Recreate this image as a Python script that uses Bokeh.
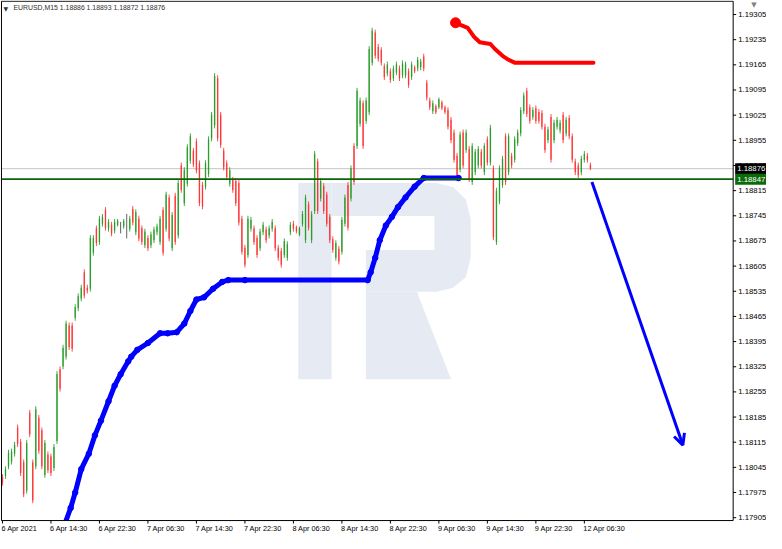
from bokeh.plotting import figure
from bokeh.models import Range1d, Arrow, OpenHead, ColumnDataSource
from bokeh.core.properties import value
from bokeh.embed import file_html
from bokeh.resources import INLINE

symbol = "EURUSD,M15"
bars_per_candle = 2  # each drawn candle covers two M15 bars

opens = [
    1.18018, 1.18021, 1.18048, 1.18061, 1.18083, 1.18156, 1.18116, 1.18059, 1.17980, 1.18197,
    1.18059, 1.18048, 1.18183, 1.18148, 1.18024, 1.18081, 1.18075, 1.18043, 1.18118, 1.18318,
    1.18326, 1.18353, 1.18440, 1.18440, 1.18461, 1.18488, 1.18515, 1.18588, 1.18545, 1.18542,
    1.18642, 1.18710, 1.18672, 1.18723, 1.18761, 1.18709, 1.18720, 1.18704, 1.18720, 1.18712,
    1.18715, 1.18718, 1.18709, 1.18764, 1.18699, 1.18737, 1.18710, 1.18663, 1.18683, 1.18663,
    1.18677, 1.18699, 1.18672, 1.18761, 1.18709, 1.18796, 1.18655, 1.18801, 1.18690, 1.18885,
    1.18780, 1.18834, 1.18898, 1.18926, 1.18952, 1.18891, 1.18831, 1.18826, 1.18861, 1.18960,
    1.18996, 1.19128, 1.19026, 1.18926, 1.18891, 1.18834, 1.18845, 1.18842, 1.18836, 1.18737,
    1.18656, 1.18636, 1.18709, 1.18710, 1.18683, 1.18655, 1.18699, 1.18707, 1.18690, 1.18709,
    1.18710, 1.18656, 1.18647, 1.18636, 1.18628, 1.18699, 1.18723, 1.18713, 1.18693, 1.18723,
    1.18677, 1.18777, 1.18677, 1.18758, 1.18896, 1.18793, 1.18828, 1.18804, 1.18742, 1.18680,
    1.18628, 1.18653, 1.18645, 1.18723, 1.18831, 1.18793, 1.18939, 1.18939, 1.19001, 1.19058,
    1.19009, 1.19033, 1.19171, 1.19255, 1.19215, 1.19206, 1.19161, 1.19141, 1.19147, 1.19128,
    1.19144, 1.19155, 1.19136, 1.19136, 1.19147, 1.19131, 1.19158, 1.19155, 1.19158, 1.19188,
    1.19115, 1.19066, 1.19036, 1.19050, 1.19047, 1.19061, 1.19047, 1.19039, 1.19012, 1.18977,
    1.18912, 1.18874, 1.18977, 1.18928, 1.18931, 1.18839, 1.18866, 1.18885, 1.18923, 1.18866,
    1.18958, 1.18893, 1.18877, 1.18672, 1.18785, 1.18831, 1.18966, 1.18866, 1.18912, 1.18901,
    1.18947, 1.18974, 1.19036, 1.19093, 1.19047, 1.19020, 1.19044, 1.19034, 1.19031, 1.18993,
    1.18955, 1.19020, 1.18955, 1.18993, 1.18982, 1.19026, 1.18974, 1.19017, 1.18966, 1.18896,
    1.18885, 1.18866, 1.18901, 1.18912, 1.18886,
]
highs = [
    1.18026, 1.18048, 1.18094, 1.18097, 1.18116, 1.18164, 1.18124, 1.18067, 1.18121, 1.18205,
    1.18067, 1.18215, 1.18191, 1.18156, 1.18121, 1.18089, 1.18083, 1.18110, 1.18313, 1.18326,
    1.18386, 1.18453, 1.18448, 1.18448, 1.18499, 1.18529, 1.18553, 1.18596, 1.18553, 1.18691,
    1.18691, 1.18718, 1.18745, 1.18750, 1.18769, 1.18736, 1.18728, 1.18736, 1.18736, 1.18728,
    1.18736, 1.18750, 1.18745, 1.18772, 1.18763, 1.18745, 1.18718, 1.18709, 1.18691, 1.18701,
    1.18715, 1.18723, 1.18745, 1.18769, 1.18812, 1.18804, 1.18755, 1.18809, 1.18844, 1.18893,
    1.18880, 1.18944, 1.18974, 1.18934, 1.18960, 1.18899, 1.18839, 1.18899, 1.18966, 1.19034,
    1.19142, 1.19136, 1.19034, 1.18934, 1.18899, 1.18880, 1.18853, 1.18850, 1.18844, 1.18745,
    1.18664, 1.18745, 1.18742, 1.18718, 1.18691, 1.18709, 1.18728, 1.18715, 1.18718, 1.18736,
    1.18718, 1.18664, 1.18655, 1.18682, 1.18674, 1.18728, 1.18731, 1.18718, 1.18715, 1.18758,
    1.18804, 1.18785, 1.18758, 1.18925, 1.18904, 1.18850, 1.18836, 1.18812, 1.18750, 1.18688,
    1.18677, 1.18661, 1.18742, 1.18804, 1.18839, 1.18885, 1.18947, 1.19101, 1.19074, 1.19066,
    1.19074, 1.19217, 1.19268, 1.19263, 1.19223, 1.19214, 1.19169, 1.19174, 1.19155, 1.19163,
    1.19174, 1.19163, 1.19177, 1.19174, 1.19155, 1.19174, 1.19163, 1.19187, 1.19182, 1.19196,
    1.19123, 1.19074, 1.19066, 1.19055, 1.19074, 1.19066, 1.19052, 1.19047, 1.19020, 1.18985,
    1.18920, 1.18979, 1.18985, 1.18985, 1.18939, 1.18947, 1.18931, 1.18939, 1.18931, 1.18947,
    1.18966, 1.18998, 1.18885, 1.18823, 1.18885, 1.18912, 1.18974, 1.18974, 1.18920, 1.18966,
    1.18985, 1.19047, 1.19088, 1.19101, 1.19055, 1.19047, 1.19052, 1.19042, 1.19039, 1.19001,
    1.18993, 1.19028, 1.19012, 1.19020, 1.19012, 1.19034, 1.19020, 1.19025, 1.18974, 1.18904,
    1.18893, 1.18912, 1.18925, 1.18920, 1.18893,
]
lows = [
    1.17994, 1.18013, 1.18040, 1.18053, 1.18075, 1.18102, 1.18021, 1.17962, 1.17972, 1.18129,
    1.17945, 1.18040, 1.18083, 1.18040, 1.18016, 1.18029, 1.18021, 1.18035, 1.18110, 1.18256,
    1.18318, 1.18345, 1.18372, 1.18367, 1.18453, 1.18480, 1.18507, 1.18515, 1.18529, 1.18534,
    1.18634, 1.18661, 1.18664, 1.18715, 1.18704, 1.18701, 1.18688, 1.18696, 1.18715, 1.18696,
    1.18709, 1.18682, 1.18701, 1.18718, 1.18691, 1.18674, 1.18664, 1.18655, 1.18647, 1.18655,
    1.18669, 1.18691, 1.18664, 1.18634, 1.18701, 1.18674, 1.18647, 1.18664, 1.18682, 1.18809,
    1.18772, 1.18826, 1.18890, 1.18880, 1.18863, 1.18772, 1.18763, 1.18818, 1.18853, 1.18952,
    1.18988, 1.18952, 1.18934, 1.18871, 1.18844, 1.18826, 1.18809, 1.18772, 1.18718, 1.18637,
    1.18601, 1.18628, 1.18701, 1.18664, 1.18628, 1.18647, 1.18691, 1.18669, 1.18682, 1.18701,
    1.18647, 1.18620, 1.18601, 1.18628, 1.18620, 1.18691, 1.18701, 1.18696, 1.18688, 1.18715,
    1.18669, 1.18704, 1.18669, 1.18750, 1.18750, 1.18785, 1.18750, 1.18715, 1.18669, 1.18642,
    1.18620, 1.18610, 1.18637, 1.18715, 1.18704, 1.18785, 1.18831, 1.18931, 1.18993, 1.18931,
    1.19001, 1.19025, 1.19163, 1.19182, 1.19174, 1.19163, 1.19123, 1.19133, 1.19115, 1.19120,
    1.19136, 1.19120, 1.19128, 1.19128, 1.19101, 1.19123, 1.19142, 1.19147, 1.19150, 1.19147,
    1.19066, 1.19039, 1.19028, 1.19028, 1.19042, 1.19039, 1.19028, 1.18985, 1.18947, 1.18893,
    1.18850, 1.18866, 1.18877, 1.18920, 1.18839, 1.18831, 1.18858, 1.18877, 1.18877, 1.18858,
    1.18885, 1.18885, 1.18677, 1.18664, 1.18777, 1.18823, 1.18831, 1.18858, 1.18877, 1.18893,
    1.18939, 1.18966, 1.19028, 1.19020, 1.19001, 1.19012, 1.19001, 1.19001, 1.18985, 1.18920,
    1.18947, 1.18893, 1.18947, 1.18985, 1.18974, 1.18947, 1.18966, 1.18958, 1.18893, 1.18858,
    1.18850, 1.18858, 1.18893, 1.18893, 1.18872,
]
closes = [
    1.18002, 1.18040, 1.18086, 1.18089, 1.18108, 1.18110, 1.18029, 1.17970, 1.18113, 1.18137,
    1.17953, 1.18207, 1.18091, 1.18048, 1.18113, 1.18037, 1.18029, 1.18102, 1.18305, 1.18264,
    1.18378, 1.18445, 1.18380, 1.18375, 1.18491, 1.18521, 1.18545, 1.18523, 1.18537, 1.18683,
    1.18683, 1.18669, 1.18737, 1.18742, 1.18712, 1.18728, 1.18696, 1.18728, 1.18731, 1.18712,
    1.18731, 1.18718, 1.18737, 1.18726, 1.18755, 1.18682, 1.18672, 1.18701, 1.18655, 1.18693,
    1.18707, 1.18715, 1.18737, 1.18642, 1.18804, 1.18682, 1.18747, 1.18672, 1.18836, 1.18817,
    1.18872, 1.18936, 1.18966, 1.18888, 1.18871, 1.18780, 1.18771, 1.18891, 1.18958, 1.19026,
    1.19134, 1.18960, 1.18942, 1.18879, 1.18852, 1.18872, 1.18817, 1.18780, 1.18726, 1.18645,
    1.18609, 1.18737, 1.18734, 1.18672, 1.18636, 1.18701, 1.18720, 1.18677, 1.18710, 1.18728,
    1.18655, 1.18628, 1.18609, 1.18674, 1.18666, 1.18720, 1.18709, 1.18701, 1.18710, 1.18750,
    1.18796, 1.18712, 1.18750, 1.18917, 1.18758, 1.18842, 1.18758, 1.18723, 1.18677, 1.18650,
    1.18669, 1.18618, 1.18734, 1.18796, 1.18712, 1.18877, 1.18839, 1.19093, 1.19066, 1.18939,
    1.19066, 1.19209, 1.19260, 1.19190, 1.19182, 1.19171, 1.19131, 1.19166, 1.19123, 1.19155,
    1.19166, 1.19128, 1.19169, 1.19166, 1.19109, 1.19166, 1.19147, 1.19179, 1.19174, 1.19155,
    1.19074, 1.19047, 1.19058, 1.19033, 1.19069, 1.19044, 1.19033, 1.18993, 1.18955, 1.18901,
    1.18858, 1.18971, 1.18885, 1.18977, 1.18847, 1.18939, 1.18923, 1.18931, 1.18885, 1.18939,
    1.18893, 1.18990, 1.18685, 1.18815, 1.18877, 1.18904, 1.18839, 1.18966, 1.18885, 1.18958,
    1.18977, 1.19039, 1.19080, 1.19028, 1.19009, 1.19039, 1.19009, 1.19009, 1.18993, 1.18928,
    1.18985, 1.18901, 1.19004, 1.19012, 1.19004, 1.18955, 1.19012, 1.18966, 1.18901, 1.18866,
    1.18858, 1.18904, 1.18917, 1.18901, 1.18876,
]

# time axis (M15 bar index counted from 6 Apr 06:30)
time_ticks = [0, 32, 64, 96, 128, 160, 192, 224, 256, 288, 320, 352, 384]
time_labels = ["6 Apr 2021", "6 Apr 14:30", "6 Apr 22:30", "7 Apr 06:30", "7 Apr 14:30",
               "7 Apr 22:30", "8 Apr 06:30", "8 Apr 14:30", "8 Apr 22:30", "9 Apr 06:30",
               "9 Apr 14:30", "9 Apr 22:30", "12 Apr 06:30"]
price_ticks = [1.17905, 1.17975, 1.18045, 1.18115, 1.18185, 1.18255, 1.18325, 1.18395,
               1.18465, 1.18535, 1.18605, 1.18675, 1.18745, 1.18815, 1.18885, 1.18955,
               1.19025, 1.19095, 1.19165, 1.19235, 1.19305]

# blue indicator trail and red indicator
blue_x = [41, 45, 48, 52, 57, 61, 65, 70, 74, 78, 83, 85, 89, 96, 104, 109, 115, 120, 124,
          128, 133, 139, 145, 149, 160, 241, 243, 246, 249, 253, 257, 261, 266, 272, 278, 301]
blue_y = [1.17886, 1.17932, 1.17975, 1.18040, 1.18083, 1.18134, 1.18175, 1.18229, 1.18272,
          1.18304, 1.18340, 1.18353, 1.18372, 1.18391, 1.18418, 1.18418, 1.18421, 1.18445,
          1.18480, 1.18512, 1.18518, 1.18542, 1.18561, 1.18566, 1.18566, 1.18566, 1.18588,
          1.18628, 1.18677, 1.18718, 1.18742, 1.18769, 1.18796, 1.18826, 1.18850, 1.18850]
red_x = [299, 307, 311, 315, 322, 325, 330, 334, 338, 390]
red_y = [1.19282, 1.19268, 1.19244, 1.19228, 1.19223, 1.19209, 1.19190, 1.19179, 1.19171, 1.19171]

# forecast arrow
arrow_x = [389, 449]
arrow_y = [1.18839, 1.18107]

bid = closes[-1]
level = 1.18847

# watermark logo, in reference-picture pixel units (x right, y down)
logo_xs = [[304, 338, 338, 304],
           [338, 445, 462, 475, 480, 480, 475, 462, 445, 373, 373, 443, 443, 338],
           [373, 425, 460, 373]]
logo_ys = [[188, 188, 390, 390],
           [188, 188, 192, 205, 225, 265, 285, 296, 300, 300, 257, 257, 222, 222],
           [300, 300, 390, 390]]

UP, DOWN, DOJI = "#229a22", "#ff2e2e", "#444444"
FONT = "Liberation Sans"
W, H = 766, 533

# whole canvas in data units; the chart box sits inside it
x_start, x_end = -1.29, 504.2
y_start, y_end = 1.17861, 1.19344
chart_left, chart_right = -0.65, 482.2
chart_bottom, chart_top = 1.17897, 1.19342
kx = W / (x_end - x_start)   # px per bar
ky = H / (y_end - y_start)   # px per price unit

p = figure(width=W, height=H, x_range=Range1d(x_start, x_end),
           y_range=Range1d(y_start, y_end), x_axis_location=None, y_axis_location=None,
           output_backend="svg", toolbar_location=None,
           min_border_left=0, min_border_right=0, min_border_top=0, min_border_bottom=0)
p.background_fill_color = "white"
p.border_fill_color = "white"
p.outline_line_color = None
p.grid.visible = False

p.extra_x_ranges = {"px": Range1d(0, 782)}
p.extra_y_ranges = {"px": Range1d(549, 0)}
p.patches(xs=logo_xs, ys=logo_ys, x_range_name="px", y_range_name="px",
          fill_color="#e5eaf3", line_color=None)

# bid line (behind candles)
p.segment(x0=[chart_left], x1=[chart_right], y0=[bid], y1=[bid],
          line_color="#c4c4c4", line_width=1)

cx = [i * bars_per_candle for i in range(len(closes))]
colors = [UP if c > o else (DOWN if c < o else DOJI) for o, c in zip(opens, closes)]
src = ColumnDataSource(dict(x=cx, h=highs, l=lows,
                            top=[max(o, c) for o, c in zip(opens, closes)],
                            bottom=[min(o, c) for o, c in zip(opens, closes)],
                            color=colors))
p.segment(x0="x", y0="l", x1="x", y1="h", line_color="color", line_width=1,
          line_alpha=0.85, source=src)
p.vbar(x="x", width=0.9, top="top", bottom="bottom", fill_color="color",
       fill_alpha=0.85, line_color=None, source=src)

p.line(blue_x, blue_y, line_color="#0000ff", line_width=5, line_join="round", line_cap="round")
p.scatter(blue_x, blue_y, size=5.5, color="#0000ff")
p.line(red_x, red_y, line_color="#ff0000", line_width=4, line_join="round", line_cap="round")
p.scatter(red_x[:1], red_y[:1], size=10, color="#ff0000")

# horizontal level
p.segment(x0=[chart_left], x1=[chart_right], y0=[level], y1=[level],
          line_color="#0b640b", line_width=1.6)

# mask everything outside the chart box (axis areas)
p.quad(left=[x_start, chart_right], right=[x_end, x_end], bottom=[y_start, y_start],
       top=[chart_bottom, y_end], fill_color="white", line_color=None)

# chart frame
p.quad(left=[chart_left], right=[chart_right], bottom=[chart_bottom], top=[chart_top],
       fill_color=None, line_color="black", line_width=1)

# price axis (right)
n = len(price_ticks)
p.segment(x0=[chart_right] * n, x1=[chart_right + 3 / kx] * n, y0=price_ticks, y1=price_ticks,
          line_color="black", line_width=1)
p.text(x=[chart_right] * n, y=price_ticks, text=[f"{v:.5f}" for v in price_ticks],
       x_offset=5, text_font=value(FONT), text_font_size=value("7.8px"),
       text_color="black", text_align="left", text_baseline="middle")

# time axis (bottom)
m = len(time_ticks)
p.segment(x0=time_ticks, x1=time_ticks, y0=[chart_bottom] * m, y1=[chart_bottom - 3 / ky] * m,
          line_color="black", line_width=1)
p.text(x=time_ticks, y=[chart_bottom] * m, text=time_labels, x_offset=-1, y_offset=3,
       text_font=value(FONT), text_font_size=value("7.3px"), text_color="black",
       text_align="left", text_baseline="top")

# current price / level boxes on the price axis
box_vals = [bid, level]
box_cols = ["black", "#0b6b0b"]
p.quad(left=[chart_right + 2 / kx] * 2, right=[x_end] * 2,
       bottom=[v - 5.5 / ky for v in box_vals], top=[v + 5.5 / ky for v in box_vals],
       fill_color=box_cols, line_color=None)
p.text(x=[chart_right] * 2, y=box_vals, text=[f"{v:.5f}" for v in box_vals], x_offset=4,
       text_font=value(FONT), text_font_size=value("7.8px"), text_color="white",
       text_align="left", text_baseline="middle")

# header
title = f"{symbol}  {opens[-1]:.5f} {highs[-1]:.5f} {lows[-1]:.5f} {closes[-1]:.5f}"
p.text(x=[chart_left], y=[chart_top], text=[title], x_offset=12, y_offset=3,
       text_font=value(FONT), text_font_size=value("6.9px"), text_color="#303030",
       text_align="left", text_baseline="top")
p.text(x=[chart_left], y=[chart_top], text=["\u25bc"], x_offset=2, y_offset=4,
       text_font=value("DejaVu Sans"), text_font_size=value("6px"), text_color="#303030",
       text_align="left", text_baseline="top")
p.text(x=[chart_right], y=[chart_top], text=["\u25bc"], x_offset=18, y_offset=0,
       text_font=value("DejaVu Sans"), text_font_size=value("7px"), text_color="#808080",
       text_align="left", text_baseline="top")

p.add_layout(Arrow(end=OpenHead(size=11, line_color="#0000ff", line_width=3),
                   x_start=arrow_x[0], y_start=arrow_y[0], x_end=arrow_x[1], y_end=arrow_y[1],
                   line_color="#0000ff", line_width=3))

open("out.html", "w").write(file_html(p, INLINE))
